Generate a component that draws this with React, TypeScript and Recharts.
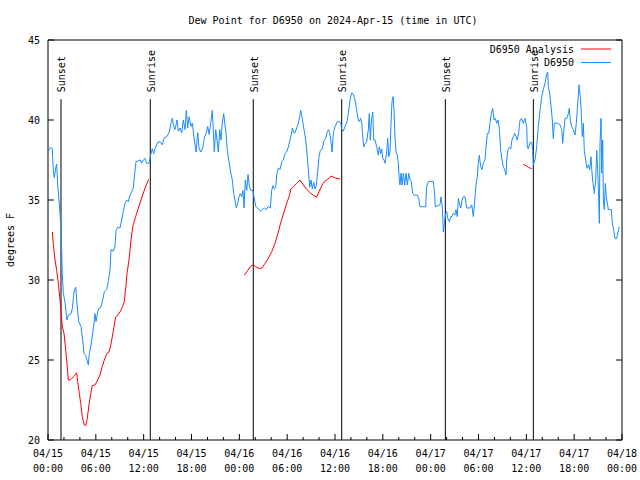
import { LineChart, Line, XAxis, YAxis, ReferenceLine } from "recharts";

const FONT = "'DejaVu Sans Mono', monospace";
const BLUE = "#1a8cff";
const RED = "#ff0000";

// hours since 04/15 00:00 UTC
const hourTicks = [0, 2, 4, 6, 8, 10, 12, 14, 16, 18, 20, 22, 24, 26, 28, 30, 32, 34, 36, 38, 40, 42, 44, 46, 48, 50, 52, 54, 56, 58, 60, 62, 64, 66, 68, 70, 72];
const xTickDates = ["04/15", "04/15", "04/15", "04/15", "04/16", "04/16", "04/16", "04/16", "04/17", "04/17", "04/17", "04/17", "04/18"];
const xTickTimes = ["00:00", "06:00", "12:00", "18:00", "00:00", "06:00", "12:00", "18:00", "00:00", "06:00", "12:00", "18:00", "00:00"];
const yTicks = [20, 25, 30, 35, 40, 45];

const sunTimes = [1.63, 12.83, 25.75, 36.84, 49.84, 60.88];
const sunLabels = ["Sunset", "Sunrise", "Sunset", "Sunrise", "Sunset", "Sunrise"];

// D6950 station readings
const blueTimes = [
  0.04, 0.38, 0.54, 0.66, 0.79, 0.97, 1.09, 1.22, 1.38, 1.51,
  1.63, 1.79, 1.92, 2.13, 2.26, 2.38, 2.55, 2.89, 3.05, 3.26,
  3.47, 3.6, 3.73, 3.85, 4.14, 4.35, 4.52, 4.73, 4.89, 5.06,
  5.18, 5.39, 5.61, 5.77, 5.9, 6.02, 6.23, 6.4, 6.65, 6.86,
  7.06, 7.36, 7.56, 7.78, 7.9, 8.19, 8.4, 8.53, 8.74, 9.03,
  9.24, 9.45, 9.66, 9.87, 10.07, 10.29, 10.5, 10.7, 10.83, 11.04,
  11.33, 11.58, 11.75, 11.95, 12.17, 12.38, 12.67, 12.92, 13.08, 13.26,
  13.42, 13.76, 14.05, 14.34, 14.59, 14.89, 15.18, 15.43, 15.59, 15.77,
  15.93, 16.18, 16.35, 16.56, 16.77, 16.97, 17.19, 17.35, 17.52, 17.69,
  17.94, 18.1, 18.35, 18.57, 18.78, 18.94, 19.15, 19.41, 19.61, 19.86,
  20.03, 20.2, 20.41, 20.61, 20.74, 20.86, 21.04, 21.2, 21.36, 21.54,
  21.7, 21.86, 22.04, 22.17, 22.33, 22.49, 22.7, 22.92, 23.12, 23.29,
  23.46, 23.62, 23.8, 23.96, 24.12, 24.3, 24.46, 24.59, 24.75, 24.93,
  25.09, 25.25, 25.43, 25.68, 25.88, 26.05, 26.31, 26.63, 26.88, 27.13,
  27.38, 27.63, 27.89, 28.06, 28.22, 28.39, 28.56, 28.73, 28.89, 29.1,
  29.32, 29.52, 29.73, 29.94, 30.14, 30.36, 30.52, 30.65, 30.82, 30.98,
  31.2, 31.4, 31.57, 31.7, 31.82, 31.99, 32.15, 32.33, 32.49, 32.65,
  32.83, 32.99, 33.15, 33.33, 33.49, 33.66, 33.83, 33.99, 34.16, 34.41,
  34.58, 34.83, 35.0, 35.16, 35.34, 35.46, 35.63, 35.79, 36.0, 36.29,
  36.54, 36.72, 36.84, 37.04, 37.26, 37.47, 37.67, 37.88, 38.1, 38.3,
  38.51, 38.72, 38.92, 39.05, 39.22, 39.35, 39.48, 39.6, 39.76, 39.98,
  40.18, 40.3, 40.43, 40.56, 40.73, 40.86, 41.02, 41.23, 41.43, 41.56,
  41.73, 41.86, 41.99, 42.15, 42.27, 42.49, 42.61, 42.74, 42.9, 43.03,
  43.15, 43.28, 43.4, 43.53, 43.65, 43.82, 43.94, 44.07, 44.15, 44.28,
  44.41, 44.57, 44.74, 44.91, 45.07, 45.25, 45.41, 45.57, 45.75, 45.95,
  46.33, 46.5, 46.66, 47.38, 47.5, 47.71, 48.33, 48.46, 48.58, 49.17,
  49.3, 49.46, 49.59, 49.71, 49.89, 50.01, 50.14, 50.34, 50.51, 50.68,
  50.84, 51.02, 51.18, 51.34, 51.47, 51.59, 51.77, 51.93, 52.1, 52.31,
  52.52, 52.94, 53.15, 53.35, 53.53, 53.69, 53.85, 53.98, 54.1, 54.28,
  54.44, 54.6, 54.82, 54.94, 55.11, 55.28, 55.44, 55.61, 55.78, 55.95,
  56.11, 56.29, 56.45, 56.61, 56.79, 56.95, 57.11, 57.29, 57.45, 57.54,
  57.67, 57.87, 58.04, 58.2, 58.37, 58.54, 58.71, 58.87, 59.05, 59.21,
  59.42, 59.62, 59.84, 60.05, 60.12, 60.25, 60.46, 60.68, 60.8, 60.88,
  61.09, 61.3, 61.5, 61.72, 61.93, 62.13, 62.34, 62.56, 62.68, 62.76,
  62.93, 63.1, 63.26, 63.38, 63.51, 63.94, 64.23, 64.44, 64.56, 64.69,
  64.85, 65.07, 65.27, 65.39, 65.52, 65.69, 65.89, 66.11, 66.27, 66.45,
  66.61, 66.77, 66.9, 67.02, 67.15, 67.27, 67.45, 67.61, 67.78, 67.95,
  68.11, 68.24, 68.36, 68.53, 68.7, 68.83, 68.95, 69.08, 69.16, 69.24,
  69.37, 69.46, 69.58, 69.66, 69.78, 69.91, 70.03, 70.16, 70.29, 70.66,
  70.79, 70.96, 71.13, 71.34, 71.54, 71.67,
];
const blueValues = [
  38.1, 38.3, 38.2, 36.9, 36.4, 37.0, 37.25, 35.9, 35.0, 34.1,
  33.3, 30.4, 29.2, 28.6, 28.0, 27.5, 27.8, 27.9, 28.2, 29.25,
  29.55, 28.8, 28.0, 27.4, 27.1, 26.25, 25.4, 25.3, 25.0, 24.7,
  25.4, 25.9, 26.7, 27.3, 27.9, 27.4, 28.0, 28.25, 28.3, 28.75,
  29.25, 29.4, 29.9, 30.6, 31.9, 31.8, 32.1, 33.1, 33.3, 33.25,
  33.75, 34.3, 34.8, 35.0, 34.9, 35.3, 35.5, 35.75, 36.45, 37.4,
  37.45, 37.5, 37.3, 37.5, 37.6, 37.3, 37.3, 37.9, 38.2, 37.9,
  38.2, 38.6, 38.65, 38.45, 38.9, 38.95, 39.2, 39.8, 40.1, 39.6,
  39.4, 40.0, 39.3, 39.5, 39.2, 40.0, 39.4, 40.6, 39.5, 40.2,
  39.6, 39.8, 38.75, 38.0, 39.2, 38.25, 38.0, 38.25, 38.9, 39.2,
  39.6, 39.1, 39.8, 40.6, 39.3, 38.0, 39.4, 38.75, 38.0, 39.4,
  38.75, 39.8, 40.4, 39.8, 39.2, 38.1, 37.4, 36.7, 36.25, 35.4,
  35.0, 34.5, 34.8, 35.2, 35.4, 35.2, 35.6, 34.5, 36.25, 35.6,
  36.6, 35.9, 35.6, 35.6, 35.1, 34.6, 34.5, 34.3, 34.4, 34.5,
  34.4, 34.6, 34.5, 35.6, 35.9, 35.7, 35.8, 36.7, 37.0, 36.9,
  37.4, 37.5, 37.9, 38.0, 38.3, 38.75, 39.1, 39.5, 39.2, 39.2,
  39.5, 39.8, 40.2, 40.6, 40.3, 39.8, 39.3, 38.75, 37.9, 36.9,
  35.8, 36.25, 35.7, 36.1, 35.7, 35.9, 36.8, 37.7, 38.1, 38.2,
  38.65, 38.85, 39.2, 39.4, 39.2, 38.75, 38.0, 39.17, 39.58, 39.9,
  39.9, 39.8, 39.4, 39.3, 39.6, 39.8, 40.4, 41.25, 41.7, 41.6,
  41.25, 40.6, 40.0, 39.9, 40.1, 39.8, 38.96, 38.33, 38.5, 38.65,
  39.4, 40.4, 38.75, 39.9, 40.5, 38.75, 38.75, 38.33, 37.8, 38.33,
  37.9, 38.2, 37.6, 37.5, 37.3, 38.0, 38.85, 37.7, 38.0, 39.8,
  41.15, 41.46, 40.6, 38.96, 38.0, 37.8, 37.3, 36.25, 35.94, 36.67,
  35.94, 36.67, 35.94, 36.67, 35.94, 36.67, 36.25, 36.15, 35.4, 35.3,
  35.3, 35.1, 34.58, 34.58, 35.83, 36.15, 36.15, 35.6, 34.58, 34.7,
  35.2, 34.58, 33.0, 33.54, 34.17, 34.27, 33.85, 33.65, 33.96, 33.96,
  34.17, 34.06, 34.4, 33.96, 35.1, 34.8, 34.5, 35.0, 35.2, 35.2,
  34.5, 34.5, 34.7, 33.96, 35.0, 35.94, 36.46, 37.3, 37.8, 37.08,
  36.9, 37.3, 37.5, 38.3, 39.17, 39.17, 39.8, 40.4, 40.73, 40.0,
  40.1, 39.8, 40.0, 39.48, 38.1, 37.5, 37.08, 36.9, 36.56, 37.5,
  38.1, 38.3, 38.2, 38.75, 38.96, 39.17, 38.96, 38.75, 39.27, 40.0,
  40.1, 39.8, 40.1, 39.58, 38.3, 38.2, 38.6, 38.6, 38.1, 37.2,
  37.5, 38.33, 39.58, 40.6, 41.46, 41.9, 42.3, 42.9, 43.0, 42.08,
  41.67, 40.83, 40.0, 38.85, 39.8, 39.8, 39.7, 39.4, 38.54, 39.27,
  40.1, 40.1, 40.4, 40.73, 40.0, 39.58, 39.4, 39.06, 39.8, 41.04,
  42.2, 41.46, 40.4, 38.96, 39.8, 38.1, 37.5, 36.98, 37.2, 36.9,
  37.7, 36.67, 36.04, 35.4, 36.25, 38.1, 36.9, 35.0, 33.54, 38.54,
  40.1, 36.67, 38.75, 35.0, 34.4, 36.04, 35.2, 34.79, 34.4, 34.4,
  33.54, 33.1, 32.6, 32.6, 33.1, 33.33,
];

// D6950 Analysis, three separate stretches
const redTimes1 = [
  0.54, 0.66, 0.88, 1.09, 1.29, 1.51, 1.63, 1.79, 2.01, 2.22,
  2.38, 2.55, 2.76, 2.97, 3.3, 3.6, 3.73, 3.93, 4.1, 4.3,
  4.55, 4.73, 4.93, 5.14, 5.36, 5.56, 5.9, 6.23, 6.52, 6.81,
  7.06, 7.36, 7.65, 7.9, 8.19, 8.49, 8.74, 9.03, 9.32, 9.57,
  9.75, 9.91, 10.16, 10.41, 10.66, 11.0, 11.33, 11.67, 12.0, 12.33,
  12.63,
];
const redValues1 = [
  33.0, 32.3, 31.25, 30.6, 29.8, 28.75, 28.1, 27.1, 26.67, 25.6,
  24.8, 23.75, 23.75, 23.85, 24.0, 24.2, 23.65, 22.9, 22.3, 21.46,
  20.94, 20.9, 21.35, 22.2, 22.9, 23.4, 23.44, 23.75, 24.06, 24.6,
  25.0, 25.4, 25.5, 26.0, 26.8, 27.7, 27.8, 28.0, 28.3, 28.65,
  29.5, 30.4, 31.25, 32.5, 33.4, 33.96, 34.5, 35.0, 35.5, 35.94,
  36.3,
];
const redTimes2 = [
  24.62, 25.05, 25.46, 25.75, 26.05, 26.47, 26.81, 27.22, 27.63, 28.06,
  28.48, 28.89, 29.23, 29.57, 29.94, 30.23, 30.48, 30.77, 31.2, 31.61,
  32.03, 32.45, 32.87, 33.28, 33.71, 33.99, 34.33, 34.66, 35.09, 35.5,
  35.91, 36.63,
];
const redValues2 = [
  30.3, 30.6, 30.88, 30.94, 30.83, 30.73, 30.73, 31.04, 31.35, 31.77,
  32.3, 33.0, 33.65, 34.2, 34.8, 35.2, 35.7, 35.83, 36.04, 36.25,
  35.94, 35.67, 35.46, 35.3, 35.17, 35.52, 35.88, 36.15, 36.29, 36.5,
  36.4, 36.3,
];
const redTimes3 = [59.62, 60.05, 60.25, 60.68];
const redValues3 = [37.23, 37.12, 37.04, 36.96];

const toRows = (ts: number[], vs: number[]) => ts.map((t, i) => ({ t, v: vs[i] }));
const blueData = toRows(blueTimes, blueValues);
const redSegments = [
  toRows(redTimes1, redValues1),
  toRows(redTimes2, redValues2),
  toRows(redTimes3, redValues3),
];

const isMajor = (h: number) => h % 6 === 0;

function BottomTick(props: any) {
  const { x, y, payload } = props;
  const h = payload.value;
  const idx = h / 6;
  return (
    <g>
      <line x1={x} y1={y} x2={x} y2={y - (isMajor(h) ? 6 : 3)} stroke="#000" />
      {isMajor(h) && (
        <text x={x} y={y + 16.5} textAnchor="middle" fontFamily={FONT} fontSize={10} fill="#000">
          <tspan x={x}>{xTickDates[idx]}</tspan>
          <tspan x={x} dy={15.3}>{xTickTimes[idx]}</tspan>
        </text>
      )}
    </g>
  );
}

function TopTick(props: any) {
  const { x, y, payload } = props;
  return <line x1={x} y1={y} x2={x} y2={y + (isMajor(payload.value) ? 6 : 3)} stroke="#000" />;
}

function LeftTick(props: any) {
  const { x, y, payload } = props;
  return (
    <g>
      <line x1={x} y1={y} x2={x + 6} y2={y} stroke="#000" />
      <text x={x - 8} y={y + 3.6} textAnchor="end" fontFamily={FONT} fontSize={10} fill="#000">
        {payload.value}
      </text>
    </g>
  );
}

function RightTick(props: any) {
  const { x, y } = props;
  return <line x1={x} y1={y} x2={x - 6} y2={y} stroke="#000" />;
}

const sunLabel = (text: string) => (props: any) => {
  const vb = props.viewBox;
  if (!vb) return null;
  const lx = vb.x + 4.5;
  const ly = vb.y - 7;
  return (
    <text
      x={lx}
      y={ly}
      transform={`rotate(-90, ${lx}, ${ly})`}
      textAnchor="start"
      fontFamily={FONT}
      fontSize={10}
      fill="#000"
    >
      {text}
    </text>
  );
};

export default function App() {
  return (
    <div style={{ position: "absolute", left: 0, top: 0, width: 640, height: 480, background: "#fff" }}>
      <LineChart width={640} height={480} margin={{ top: 0, right: 0, bottom: 0, left: 0 }}>
        <XAxis
          dataKey="t"
          type="number"
          domain={[0, 72]}
          ticks={hourTicks}
          interval={0}
          allowDataOverflow
          height={40}
          tickSize={0}
          tickMargin={0}
          tickLine={false}
          axisLine={{ stroke: "#000" }}
          tick={<BottomTick />}
        />
        <XAxis
          xAxisId="top"
          orientation="top"
          type="number"
          domain={[0, 72]}
          ticks={hourTicks}
          interval={0}
          allowDataOverflow
          height={40}
          tickSize={0}
          tickMargin={0}
          tickLine={false}
          axisLine={{ stroke: "#000" }}
          tick={<TopTick />}
        />
        <YAxis
          type="number"
          domain={[20, 45]}
          ticks={yTicks}
          interval={0}
          allowDataOverflow
          width={48}
          tickSize={0}
          tickMargin={0}
          tickLine={false}
          axisLine={{ stroke: "#000" }}
          tick={<LeftTick />}
        />
        <YAxis
          yAxisId="right"
          orientation="right"
          type="number"
          domain={[20, 45]}
          ticks={yTicks}
          interval={0}
          allowDataOverflow
          width={18}
          tickSize={0}
          tickMargin={0}
          tickLine={false}
          axisLine={{ stroke: "#000" }}
          tick={<RightTick />}
        />
        {sunTimes.map((t, i) => (
          <ReferenceLine
            key={"sun" + i}
            segment={[{ x: t, y: 20 }, { x: t, y: 41.3 }]}
            stroke="#000"
            strokeWidth={1}
            ifOverflow="visible"
            label={sunLabel(sunLabels[i])}
          />
        ))}
        {redSegments.map((seg, i) => (
          <Line
            key={"red" + i}
            data={seg}
            dataKey="v"
            type="linear"
            stroke={RED}
            strokeWidth={1}
            dot={false}
            isAnimationActive={false}
          />
        ))}
        <Line
          data={blueData}
          dataKey="v"
          type="linear"
          stroke={BLUE}
          strokeWidth={1}
          dot={false}
          isAnimationActive={false}
        />
      </LineChart>
      <svg
        width={640}
        height={480}
        style={{ position: "absolute", left: 0, top: 0, pointerEvents: "none" }}
      >
        <text x={333} y={23.5} textAnchor="middle" fontFamily={FONT} fontSize={10} fill="#000">
          Dew Point for D6950 on 2024-Apr-15 (time in UTC)
        </text>
        <text
          x={14}
          y={240}
          transform="rotate(-90, 14, 240)"
          textAnchor="middle"
          fontFamily={FONT}
          fontSize={10}
          fill="#000"
        >
          degrees F
        </text>
        <text x={574} y={52.5} textAnchor="end" fontFamily={FONT} fontSize={10} fill="#000">
          D6950 Analysis
        </text>
        <line x1={581} y1={49} x2={611} y2={49} stroke={RED} />
        <text x={574} y={66} textAnchor="end" fontFamily={FONT} fontSize={10} fill="#000">
          D6950
        </text>
        <line x1={581} y1={62.5} x2={611} y2={62.5} stroke={BLUE} />
      </svg>
    </div>
  );
}
